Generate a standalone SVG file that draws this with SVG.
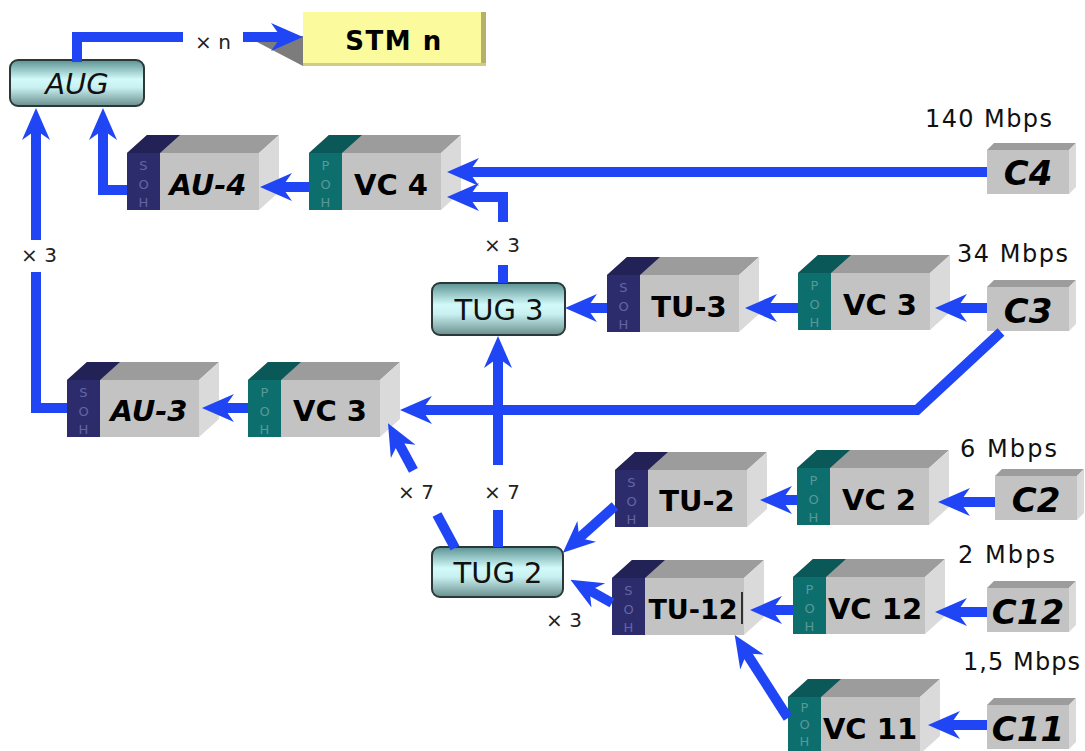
<svg xmlns="http://www.w3.org/2000/svg" xmlns:xlink="http://www.w3.org/1999/xlink" width="1085" height="751" viewBox="0 0 1085 751">
<style>
.front{fill:#c3c3c3}
.top{fill:#9c9c9c}
.side{fill:#dadada}
.soh{fill:#2c2c6c}
.sohTop{fill:#222256}
.poh{fill:#0d6e6e}
.pohTop{fill:#0a5858}
.lbl{font-family:"DejaVu Sans",sans-serif;font-weight:bold;font-size:29px;fill:#000;text-anchor:middle}
.clbl{font-family:"DejaVu Sans",sans-serif;font-weight:bold;font-style:oblique;font-size:34px;fill:#000;text-anchor:middle}
.sl{font-family:"DejaVu Sans",sans-serif;font-size:13px;text-anchor:middle}
.slS{fill:#6464a4}
.slP{fill:#5a9898}
.rate{font-family:"DejaVu Sans",sans-serif;font-size:24px;fill:#111}
.mul{font-family:"DejaVu Sans",sans-serif;font-size:20px;fill:#222;text-anchor:middle}
.grp{fill:url(#tg);stroke:#2a3838;stroke-width:2}
.glbl{font-family:"DejaVu Sans",sans-serif;font-style:oblique;font-size:29px;fill:#111;text-anchor:middle}
.con{fill:none;stroke:#1f45f5;stroke-width:10;stroke-linejoin:miter}
.arr{marker-end:url(#ah)}
</style>
<defs>
<linearGradient id="tg" x1="0" y1="0" x2="0" y2="1">
<stop offset="0" stop-color="#5c9292"/>
<stop offset="0.42" stop-color="#d2fafa"/>
<stop offset="0.6" stop-color="#c8f0f0"/>
<stop offset="1" stop-color="#6a8e8e"/>
</linearGradient>
<marker id="ah" viewBox="0 0 32 30" refX="13" refY="15" markerWidth="32" markerHeight="30" markerUnits="userSpaceOnUse" orient="auto">
<path d="M0,1 L32,15 L0,29 L10,15 Z" fill="#1f45f5"/>
</marker>
<g id="bigbox">
<polygon class="top" points="0,0 20,-18 152,-18 132,0"/>
<polygon class="side" points="132,0 152,-18 152,39 132,57"/>
<rect class="front" width="132" height="57"/>
</g>
<g id="sohS">
<polygon class="sohTop" points="0,0 20,-18 53,-18 33,0"/>
<rect class="soh" width="33" height="57"/>
</g>
<g id="pohS">
<polygon class="pohTop" points="0,0 20,-18 53,-18 33,0"/>
<rect class="poh" width="33" height="57"/>
</g>
<g id="cbox">
<polygon class="top" points="0,0 7,-7 89,-7 82,0"/>
<polygon class="side" points="82,0 89,-7 89,37 82,44"/>
<rect class="front" width="82" height="44"/>
</g>
</defs>
<rect width="1085" height="751" fill="#ffffff"/>

<g id="stm">
<polygon points="257,42 303,36 303,66" fill="#7c7c7c"/>
<rect x="303" y="12" width="178" height="53" fill="#fbfb9e"/>
<rect x="481" y="12" width="5" height="54" fill="#b6b168"/>
<rect x="303" y="63" width="183" height="3" fill="#d0cc80"/>
<text x="394" y="50" class="lbl" style="font-size:26px;letter-spacing:1.5px">STM n</text>
</g>

<g id="aug">
<rect x="10" y="60" width="134" height="46" rx="8" class="grp"/>
<text x="77" y="94" class="glbl">AUG</text>
</g>

<g id="au4">
<use xlink:href="#bigbox" x="127" y="153"/>
<use xlink:href="#sohS" x="127" y="153"/>
<text class="sl slS" x="143.5" y="170">S</text><text class="sl slS" x="143.5" y="189">O</text><text class="sl slS" x="143.5" y="207">H</text>
<text x="208" y="195" class="lbl" style="font-style:oblique">AU-4</text>
</g>

<g id="vc4">
<use xlink:href="#bigbox" x="309" y="153"/>
<use xlink:href="#pohS" x="309" y="153"/>
<text class="sl slP" x="325.5" y="170">P</text><text class="sl slP" x="325.5" y="189">O</text><text class="sl slP" x="325.5" y="207">H</text>
<text x="391" y="195" class="lbl">VC 4</text>
</g>

<g id="c4">
<use xlink:href="#cbox" x="987" y="150"/>
<text x="1028" y="185" class="clbl">C4</text>
</g>
<text x="925" y="127" class="rate" textLength="127" lengthAdjust="spacing">140 Mbps</text>

<g id="tug3">
<rect x="432" y="283" width="133" height="52" rx="8" class="grp"/>
<text x="499" y="320" class="glbl" style="font-style:normal">TUG 3</text>
</g>

<g id="tu3">
<use xlink:href="#bigbox" x="607" y="275"/>
<use xlink:href="#sohS" x="607" y="275"/>
<text class="sl slS" x="623.5" y="292">S</text><text class="sl slS" x="623.5" y="311">O</text><text class="sl slS" x="623.5" y="329">H</text>
<text x="689" y="317" class="lbl">TU-3</text>
</g>

<g id="vc3u">
<use xlink:href="#bigbox" x="798" y="273"/>
<use xlink:href="#pohS" x="798" y="273"/>
<text class="sl slP" x="814.5" y="290">P</text><text class="sl slP" x="814.5" y="309">O</text><text class="sl slP" x="814.5" y="327">H</text>
<text x="880" y="315" class="lbl">VC 3</text>
</g>

<g id="c3">
<use xlink:href="#cbox" x="987" y="287"/>
<text x="1028" y="323" class="clbl">C3</text>
</g>
<text x="957" y="262" class="rate" textLength="111" lengthAdjust="spacing">34 Mbps</text>

<g id="au3">
<use xlink:href="#bigbox" x="67" y="380"/>
<use xlink:href="#sohS" x="67" y="380"/>
<text class="sl slS" x="83.5" y="397">S</text><text class="sl slS" x="83.5" y="416">O</text><text class="sl slS" x="83.5" y="434">H</text>
<text x="149" y="421" class="lbl" style="font-style:oblique">AU-3</text>
</g>

<g id="vc3l">
<use xlink:href="#bigbox" x="248" y="380"/>
<use xlink:href="#pohS" x="248" y="380"/>
<text class="sl slP" x="264.5" y="397">P</text><text class="sl slP" x="264.5" y="416">O</text><text class="sl slP" x="264.5" y="434">H</text>
<text x="330" y="421" class="lbl">VC 3</text>
</g>

<g id="tug2">
<rect x="432" y="547" width="131" height="50" rx="8" class="grp"/>
<text x="498" y="583" class="glbl" style="font-style:normal">TUG 2</text>
</g>

<g id="tu2">
<use xlink:href="#bigbox" x="615" y="470"/>
<use xlink:href="#sohS" x="615" y="470"/>
<text class="sl slS" x="631.5" y="487">S</text><text class="sl slS" x="631.5" y="506">O</text><text class="sl slS" x="631.5" y="524">H</text>
<text x="697" y="511" class="lbl">TU-2</text>
</g>

<g id="tu12">
<use xlink:href="#bigbox" x="612" y="578"/>
<use xlink:href="#sohS" x="612" y="578"/>
<text class="sl slS" x="628.5" y="595">S</text><text class="sl slS" x="628.5" y="614">O</text><text class="sl slS" x="628.5" y="632">H</text>
<text x="693" y="619" class="lbl" style="font-size:27px">TU-12</text>
<line x1="742" y1="592" x2="742" y2="624" stroke="#000" stroke-width="1.5"/>
</g>

<g id="vc2">
<use xlink:href="#bigbox" x="797" y="468"/>
<use xlink:href="#pohS" x="797" y="468"/>
<text class="sl slP" x="813.5" y="485">P</text><text class="sl slP" x="813.5" y="504">O</text><text class="sl slP" x="813.5" y="522">H</text>
<text x="879" y="510" class="lbl">VC 2</text>
</g>

<g id="c2">
<use xlink:href="#cbox" x="995" y="476"/>
<text x="1036" y="512" class="clbl">C2</text>
</g>
<text x="960" y="457" class="rate" textLength="97" lengthAdjust="spacing">6 Mbps</text>

<g id="vc12">
<use xlink:href="#bigbox" x="793" y="577"/>
<use xlink:href="#pohS" x="793" y="577"/>
<text class="sl slP" x="809.5" y="594">P</text><text class="sl slP" x="809.5" y="613">O</text><text class="sl slP" x="809.5" y="631">H</text>
<text x="875" y="619" class="lbl">VC 12</text>
</g>

<g id="c12">
<use xlink:href="#cbox" x="987" y="588"/>
<text x="1028" y="624" class="clbl">C12</text>
</g>
<text x="958" y="563" class="rate" textLength="97" lengthAdjust="spacing">2 Mbps</text>

<g id="vc11">
<use xlink:href="#bigbox" x="788" y="697"/>
<use xlink:href="#pohS" x="788" y="697"/>
<text class="sl slP" x="804.5" y="712">P</text><text class="sl slP" x="804.5" y="729">O</text><text class="sl slP" x="804.5" y="746">H</text>
<text x="870" y="739" class="lbl">VC 11</text>
</g>

<g id="c11">
<use xlink:href="#cbox" x="987" y="705"/>
<text x="1028" y="741" class="clbl">C11</text>
</g>
<text x="963" y="670" class="rate" textLength="117" lengthAdjust="spacing">1,5 Mbps</text>

<g id="connectors">
<path class="con" d="M77,62 V37 H183"/>
<path class="con arr" d="M243,37 H284"/>
<path class="con arr" d="M127,190 H103 V127"/>
<path class="con" d="M67,408 H36 V272"/>
<path class="con arr" d="M36,240 V127"/>
<path class="con arr" d="M309,187 H279"/>
<path class="con arr" d="M987,172 H466"/>
<path class="con" d="M503,283 V265"/>
<path class="con arr" d="M503,222 V197 H466"/>
<path class="con arr" d="M987,308 H954"/>
<path class="con arr" d="M798,308 H764"/>
<path class="con arr" d="M607,308 H584"/>
<path class="con arr" d="M1001,332 L917,410 H419"/>
<path class="con arr" d="M248,408 H221"/>
<path class="con" d="M455,548 L437,514.5"/>
<path class="con arr" d="M413.4,470.4 L397,440"/>
<path class="con" d="M498,547 V510"/>
<path class="con arr" d="M498,465 V355"/>
<path class="con arr" d="M615,506 L577,540"/>
<path class="con arr" d="M612,603 L587,589"/>
<path class="con arr" d="M995,502 H957"/>
<path class="con arr" d="M797,500 H779"/>
<path class="con arr" d="M987,612 H954"/>
<path class="con arr" d="M793,610 H769"/>
<path class="con arr" d="M987,725 H947"/>
<path class="con arr" d="M788,718 L745,651"/>
<text class="mul" x="213" y="49">× n</text>
<text class="mul" x="39" y="262">× 3</text>
<text class="mul" x="502" y="252">× 3</text>
<text class="mul" x="416" y="499">× 7</text>
<text class="mul" x="502" y="499">× 7</text>
<text class="mul" x="564" y="627">× 3</text>
</g>
</svg>
